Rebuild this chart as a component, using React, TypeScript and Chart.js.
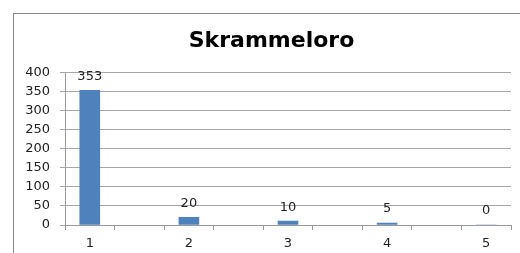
import React, { useEffect, useRef } from "react";
import { Chart, registerables } from "chart.js";

Chart.register(...registerables);

const TITLE = "Skrammeloro";
const categories = [1, 2, 3, 4, 5];
const values = [353, 20, 10, 5, 0];
const yTicks = [0, 50, 100, 150, 200, 250, 300, 350, 400];
// x tick marks sit halfway between categories (Excel style)
const xTickMarks = [0.75, 1.25, 1.75, 2.25, 2.75, 3.25, 3.75, 4.25, 4.75, 5.25];

const FONT = "'DejaVu Sans', Verdana, sans-serif";

// Excel centres the title on the whole chart frame (which runs past the crop)
const FRAME_LEFT = 14;
const FRAME_RIGHT = 529;

const valueLabels = {
  id: "valueLabels",
  afterLayout(chart: any) {
    const t = chart.titleBlock;
    if (t) {
      t.left = FRAME_LEFT;
      t.right = FRAME_RIGHT;
      t.width = FRAME_RIGHT - FRAME_LEFT;
    }
  },
  afterDatasetsDraw(chart: any) {
    const ctx = chart.ctx;
    const meta = chart.getDatasetMeta(0);
    ctx.save();
    ctx.font = `13px ${FONT}`;
    ctx.fillStyle = "#222";
    ctx.textAlign = "center";
    ctx.textBaseline = "middle";
    meta.data.forEach((el: any, i: number) => {
      ctx.fillText(String(values[i]), el.x, el.y - 14);
    });
    ctx.restore();
  },
};

export default function App() {
  const ref = useRef<HTMLCanvasElement | null>(null);
  useEffect(() => {
    if (!ref.current) return;
    const allTicks = [...xTickMarks, ...categories].sort((a, b) => a - b);
    const chart = new Chart(ref.current, {
      type: "bar",
      data: {
        datasets: [
          {
            data: categories.map((c, i) => ({ x: c, y: values[i] })),
            backgroundColor: "#4F81BD",
            borderWidth: 0,
            barThickness: 20,
          },
        ],
      },
      options: {
        animation: false,
        responsive: false,
        maintainAspectRatio: false,
        layout: { padding: { left: 0, right: 9, top: 14, bottom: 0 } },
        plugins: {
          legend: { display: false },
          tooltip: { enabled: false },
          title: {
            display: true,
            text: TITLE,
            color: "#000",
            font: { family: FONT, size: 22, weight: "bold", lineHeight: 1.2 },
            padding: { top: 14, bottom: 18 },
          },
        },
        scales: {
          x: {
            type: "linear",
            min: 0.75,
            max: 5.25,
            offset: false,
            afterBuildTicks: (s: any) => {
              s.ticks = allTicks.map((v) => ({ value: v }));
            },
            afterFit: (s: any) => {
              s.height = 28;
            },
            grid: {
              display: true,
              drawOnChartArea: false,
              drawTicks: true,
              tickLength: 5,
              offset: false,
              color: (c: any) =>
                c.tick && xTickMarks.includes(c.tick.value) ? "#9a9a9a" : "rgba(0,0,0,0)",
            },
            border: { display: true, color: "#9a9a9a" },
            ticks: {
              autoSkip: false,
              maxRotation: 0,
              padding: 6,
              color: "#222",
              font: { family: FONT, size: 13 },
              callback: (v: any) => (categories.includes(Number(v)) ? String(v) : ""),
            },
          },
          y: {
            min: 0,
            max: 400,
            afterBuildTicks: (s: any) => {
              s.ticks = yTicks.map((v) => ({ value: v }));
            },
            afterFit: (s: any) => {
              s.width = 65;
            },
            grid: {
              color: "#a6a6a6",
              tickLength: 5,
              drawTicks: true,
            },
            border: { display: true, color: "#9a9a9a" },
            ticks: {
              padding: 10,
              color: "#222",
              font: { family: FONT, size: 13 },
            },
          },
        },
      },
      plugins: [valueLabels],
    } as any);
    return () => chart.destroy();
  }, []);

  return (
    <div
      style={{
        position: "fixed",
        left: 0,
        top: 0,
        width: 520,
        height: 253,
        overflow: "hidden",
        background: "#fff",
      }}
    >
      <div
        style={{
          position: "absolute",
          left: 13,
          top: 13,
          width: 600,
          height: 300,
          border: "1px solid #878787",
        }}
      />
      <canvas
        ref={ref}
        width={520}
        height={253}
        style={{ position: "absolute", left: 0, top: 0, width: 520, height: 253 }}
      />
    </div>
  );
}
